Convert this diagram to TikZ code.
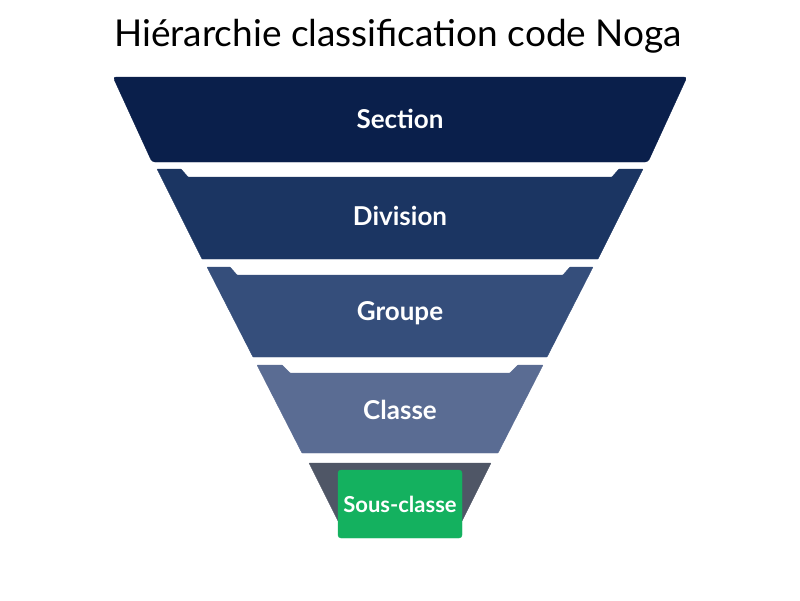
\documentclass[tikz,border=0pt]{standalone}
\usepackage{fontspec}
\setmainfont{Lato}
\usepackage{tkz-euclide}
\usepackage{tikz}
\usetikzlibrary{positioning}
\colorlet{background}{white}
\definecolor{secColor}{HTML}{0A1F4B}
\definecolor{divColor}{HTML}{1B3562}
\definecolor{grpColor}{HTML}{354E7B}
\definecolor{claColor}{HTML}{5A6C93}
\definecolor{souColor}{HTML}{4F5666}
\definecolor{greenColor}{HTML}{14B15F}
\tikzset{lvl/.style={text=white,font=\bfseries\fontsize{26}{30}\selectfont}}

\begin{document}
\begin{tikzpicture}[x=1pt,y=-1pt,rounded corners=.5pt]
    \useasboundingbox[fill=background] (0,0) rectangle (800,600);

    \node (title) at (398,36) {\fontsize{37}{42}\selectfont Hiérarchie classification code Noga};

    % Section
    \tkzDefPoint(113,77){S1}
    \tkzDefPoint(687,77){S2}
    \tkzDefPoint(648,162){S3}
    \tkzDefPoint(152,162){S4}
    \draw[secColor,fill=secColor,rounded corners=3pt] (S1)--(S2)--(S3)--(S4)--cycle;

    % Division
    \tkzDefPoint(157,169){D1}
    \tkzDefPoint(181,169){D2}
    \tkzDefPoint(188,177){D3}
    \tkzDefPoint(612,177){D4}
    \tkzDefPoint(619,169){D5}
    \tkzDefPoint(643,169){D6}
    \tkzDefPoint(598,259){D7}
    \tkzDefPoint(202,259){D8}
    \draw[divColor,fill=divColor] (D1)--(D2)--(D3)--(D4)--(D5)--(D6)--(D7)--(D8)--cycle;

    % Groupe
    \tkzDefPoint(207,267){G1}
    \tkzDefPoint(230,267){G2}
    \tkzDefPoint(237,275){G3}
    \tkzDefPoint(563,275){G4}
    \tkzDefPoint(570,267){G5}
    \tkzDefPoint(593,267){G6}
    \tkzDefPoint(547,357){G7}
    \tkzDefPoint(253,357){G8}
    \draw[grpColor,fill=grpColor] (G1)--(G2)--(G3)--(G4)--(G5)--(G6)--(G7)--(G8)--cycle;

    % Classe
    \tkzDefPoint(257,365){C1}
    \tkzDefPoint(282,365){C2}
    \tkzDefPoint(290,373){C3}
    \tkzDefPoint(510,373){C4}
    \tkzDefPoint(518,365){C5}
    \tkzDefPoint(543,365){C6}
    \tkzDefPoint(498,453){C7}
    \tkzDefPoint(302,453){C8}
    \draw[claColor,fill=claColor] (C1)--(C2)--(C3)--(C4)--(C5)--(C6)--(C7)--(C8)--cycle;

    % Sous-classe
    \tkzDefPoint(309,463){K1}
    \tkzDefPoint(491,463){K2}
    \tkzDefPoint(462,521){K3}
    \tkzDefPoint(338,521){K4}
    \draw[souColor,fill=souColor] (K1)--(K2)--(K3)--(K4)--cycle;
    \draw[greenColor,fill=greenColor,rounded corners=3pt] (338,470) rectangle (462,538);

    \node[lvl] (sec) at (400,119) {Section};
    \node[lvl] (div) at (400,216) {Division};
    \node[lvl] (grp) at (400,313) {Groupe};
    \node[lvl] (cla) at (400,410) {Classe};
    \node[lvl,font=\bfseries\fontsize{22}{26}\selectfont] (sou) at (400,504) {Sous-classe};
\end{tikzpicture}
\end{document}
